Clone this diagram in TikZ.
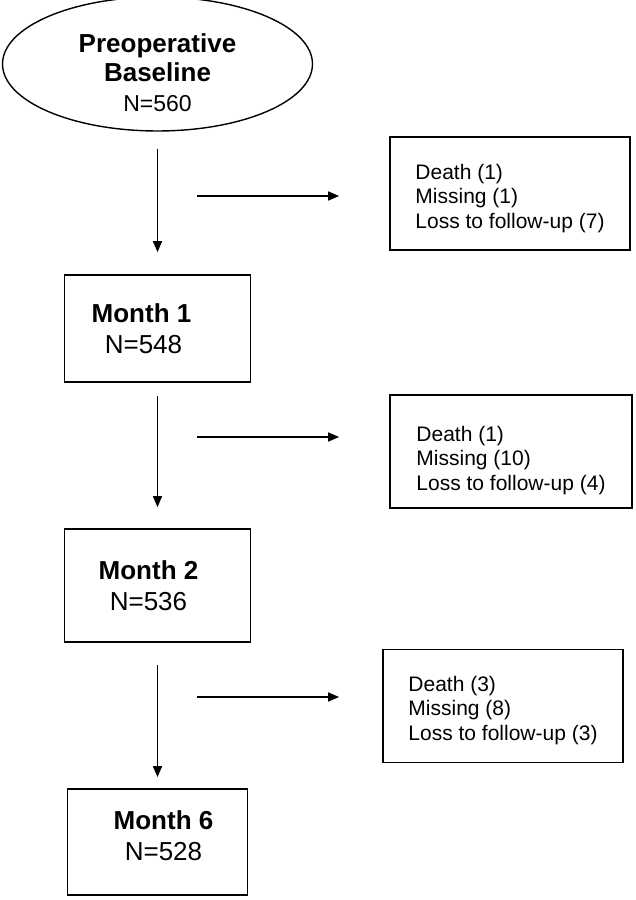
\documentclass[tikz,border=0pt]{standalone}
\usepackage{fontspec}
\setmainfont{Liberation Sans}
\usetikzlibrary{arrows.meta,positioning,shapes.geometric,calc}
\tikzset{
  >={Triangle[length=11pt,width=9pt]},
  every node/.style={text=black},
  start/.style={draw,ellipse,line width=1.4pt,minimum width=310pt,minimum height=118pt,inner sep=0pt,align=center,font=\fontsize{26}{29.5}\selectfont},
  stage/.style={draw,line width=1.7pt,align=center,inner sep=0pt,font=\fontsize{26}{31}\selectfont},
  lost/.style={draw,line width=1.7pt,align=left,inner sep=0pt,minimum width=240pt,minimum height=113pt,font=\fontsize{21}{24.5}\selectfont},
  arrow/.style={->,line width=1.6pt},
}

\begin{document}
\begin{tikzpicture}[x=1pt,y=1pt]
\useasboundingbox (0,0) rectangle (636,-900);

% main line
\node[start,text height=94.5pt] (base) at (157.5,-64) {\textbf{Preoperative}\\\textbf{Baseline}\\\fontsize{23}{29.5}\selectfont N=560};
\node[stage,minimum width=186pt,minimum height=107pt] (m1) at (157.5,-328.5) {\hspace*{-32pt}\textbf{Month 1}\\\hspace*{-28pt}N=548};
\node[stage,minimum width=186pt,minimum height=113pt] (m2) at (157.5,-585.5) {\hspace*{-18pt}\textbf{Month 2}\\\hspace*{-18pt}N=536};
\node[stage,minimum width=180pt,minimum height=106pt,text depth=13pt] (m6) at (157.5,-842) {\hspace*{12pt}\textbf{Month 6}\\\hspace*{12pt}N=528};
\draw[arrow,shorten <=17pt,shorten >=22pt] (base.south) -- (m1.north);
\draw[arrow,shorten <=13pt,shorten >=21pt] (m1.south) -- (m2.north);
\draw[arrow,shorten <=22pt,shorten >=11pt] (m2.south) -- (m6.north);

% losses
\node[lost,text height=73.5pt] (r1) at (510,-193.5) {Death (1)\\Missing (1)\\Loss to follow-up (7)};
\node[lost,minimum width=242pt,text height=81.5pt] (r2) at (511,-451.5) {Death (1)\\Missing (10)\\Loss to follow-up (4)};
\node[lost,text height=72.5pt] (r3) at (503,-706) {Death (3)\\Missing (8)\\Loss to follow-up (3)};
\coordinate (s1) at (197,-196);
\coordinate (s2) at (197,-437);
\coordinate (s3) at (197,-697);
\foreach \s/\r/\g in {s1/r1/50,s2/r2/50,s3/r3/43} {\draw[arrow,shorten >=\g pt] (\s) -- (\s -| \r.west);}

\end{tikzpicture}
\end{document}
